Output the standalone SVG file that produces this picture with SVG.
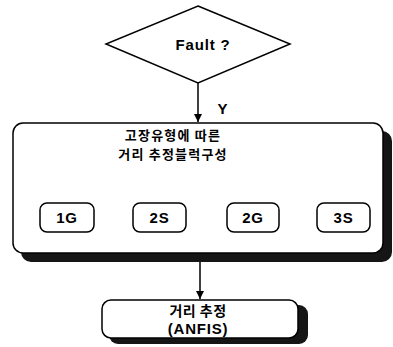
<svg xmlns="http://www.w3.org/2000/svg" width="393" height="347" viewBox="0 0 393 347">
<defs>
<style>
.ln{fill:none;stroke:#000;stroke-width:1.5}
.box{fill:#fff;stroke:#000;stroke-width:1.5}
.sh{fill:#151515}
.t{font-family:"Liberation Sans","Noto Sans CJK KR",sans-serif;font-weight:bold;fill:#000;text-anchor:middle;font-size:15px;letter-spacing:0.8px}
.k{font-family:"Noto Sans CJK KR","Liberation Sans",sans-serif;font-weight:bold;fill:#000;text-anchor:middle;font-size:14px;letter-spacing:0.5px}
.k2{font-family:"Noto Sans CJK KR","Liberation Sans",sans-serif;font-weight:bold;fill:#000;text-anchor:middle;font-size:13px;letter-spacing:1.2px}
</style>
<marker id="ah" viewBox="0 0 10 10" refX="10" refY="5" markerWidth="8" markerHeight="8" orient="auto" markerUnits="userSpaceOnUse">
<path d="M0,0 L10,5 L0,10 z" fill="#000"/>
</marker>
</defs>
<rect width="393" height="347" fill="#fff"/>
<g id="fault">
<polygon class="box" points="198,6 290,44 198,83 106,44"/>
<text class="t" x="203" y="50">Fault ?</text>
</g>
<g id="connectors">
<line class="ln" x1="198" y1="83" x2="198" y2="122" marker-end="url(#ah)"/>
<text class="t" x="223" y="114">Y</text>
<line class="ln" x1="200" y1="260" x2="200" y2="299" marker-end="url(#ah)"/>
</g>
<g id="block">
<rect class="sh" x="21" y="131" width="371" height="131" rx="10"/>
<rect class="box" x="13" y="123" width="370" height="130" rx="10"/>
<text class="k2" x="173" y="140">고장유형에 따른</text>
<text class="k2" x="173" y="159">거리 추정블럭구성</text>
</g>
<g id="n1G">
<rect class="box" x="40" y="203" width="54" height="29" rx="7"/>
<text class="t" x="67" y="223">1G</text>
</g>
<g id="n2S">
<rect class="box" x="133" y="203" width="53" height="29" rx="7"/>
<text class="t" x="159.5" y="223">2S</text>
</g>
<g id="n2G">
<rect class="box" x="227" y="203" width="52" height="29" rx="7"/>
<text class="t" x="253" y="223">2G</text>
</g>
<g id="n3S">
<rect class="box" x="317" y="203" width="53" height="29" rx="7"/>
<text class="t" x="343.5" y="223">3S</text>
</g>
<g id="anfis">
<rect class="sh" x="109" y="305" width="199" height="39" rx="9"/>
<rect class="box" x="102" y="300" width="196" height="38" rx="9"/>
<text class="k" x="198" y="316">거리 추정</text>
<text class="t" x="198" y="334">(ANFIS)</text>
</g>
</svg>
